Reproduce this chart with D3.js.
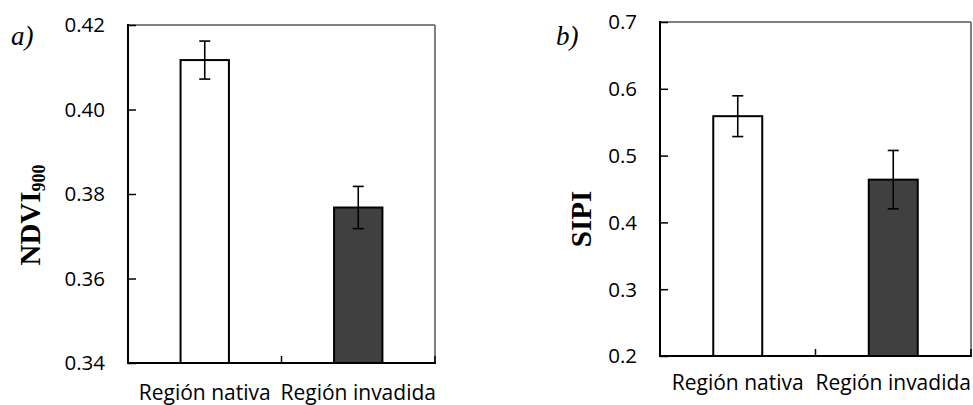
<!DOCTYPE html>
<html>
<head>
<meta charset="utf-8">
<script src="https://cdn.jsdelivr.net/npm/d3@7"></script>
<style>
  body { margin: 0; background: #fff; }
  svg { display: block; }
  .tick-label, .cat-label { font-family: "Open Sans", sans-serif; fill: #000; }
</style>
</head>
<body>
<div id="chart"></div>
<script>
var categories = ["Región nativa", "Región invadida"];
var ndviMean = [0.4117, 0.3768];
var ndviErr = [0.0045, 0.0050];
var sipiMean = [0.559, 0.464];
var sipiErr = [0.0305, 0.0437];
var ndviTicks = [0.34, 0.36, 0.38, 0.40, 0.42];
var sipiTicks = [0.2, 0.3, 0.4, 0.5, 0.6, 0.7];
var barFills = ["#ffffff", "#404040"];

var width = 973, height = 405;

var svg = d3.select("#chart").append("svg")
    .attr("width", width)
    .attr("height", height);

function panel(opt) {
  var x = d3.scaleBand()
      .domain(categories)
      .range([opt.left, opt.right])
      .paddingInner(0.685)
      .paddingOuter(0.3425);
  var y = d3.scaleLinear()
      .domain(opt.domain)
      .range([opt.bottom, opt.top]);

  var g = svg.append("g");

  // top and right frame (grey)
  g.append("line")
      .attr("x1", opt.left).attr("x2", opt.right)
      .attr("y1", opt.top).attr("y2", opt.top)
      .attr("stroke", "#808080").attr("stroke-width", 2);
  g.append("line")
      .attr("x1", opt.right).attr("x2", opt.right)
      .attr("y1", opt.top).attr("y2", opt.bottom)
      .attr("stroke", "#808080").attr("stroke-width", 2);

  // bars
  g.selectAll(".bar").data(opt.mean).enter()
    .append("rect")
      .attr("class", "bar")
      .attr("x", function(d, i) { return x(categories[i]); })
      .attr("width", x.bandwidth())
      .attr("y", function(d) { return y(d); })
      .attr("height", function(d) { return opt.bottom - y(d); })
      .attr("fill", function(d, i) { return barFills[i]; })
      .attr("stroke", "#000")
      .attr("stroke-width", 2);

  // error bars
  var cap = 5.5;
  opt.mean.forEach(function(m, i) {
    var cx = x(categories[i]) + x.bandwidth() / 2;
    var e = opt.err[i];
    var eg = g.append("g").attr("stroke", "#000").attr("stroke-width", 1.6);
    eg.append("line").attr("x1", cx).attr("x2", cx).attr("y1", y(m + e)).attr("y2", y(m - e));
    eg.append("line").attr("x1", cx - cap).attr("x2", cx + cap).attr("y1", y(m + e)).attr("y2", y(m + e));
    eg.append("line").attr("x1", cx - cap).attr("x2", cx + cap).attr("y1", y(m - e)).attr("y2", y(m - e));
  });

  // y axis with inward ticks
  var yAxis = d3.axisRight(y)
      .tickValues(opt.ticks)
      .tickSize(8)
      .tickFormat("");
  var ya = g.append("g")
      .attr("transform", "translate(" + opt.left + ",0)")
      .call(yAxis);
  ya.select(".domain").remove();
  ya.selectAll(".tick line").attr("stroke", "#000").attr("stroke-width", 1.5);
  g.append("line")
      .attr("x1", opt.left).attr("x2", opt.left)
      .attr("y1", opt.top - 1).attr("y2", opt.bottom + 1)
      .attr("stroke", "#000").attr("stroke-width", 2);

  g.selectAll(".tick-label").data(opt.ticks).enter()
    .append("text")
      .attr("class", "tick-label")
      .attr("x", opt.left - 23)
      .attr("y", function(d) { return y(d); })
      .attr("dy", "0.36em")
      .attr("text-anchor", "end")
      .style("font-size", "20.5px")
      .text(opt.format);

  // x axis: ticks between categories, pointing up
  var mid = (opt.left + opt.right) / 2;
  g.append("line")
      .attr("x1", opt.left - 1).attr("x2", opt.right + 1)
      .attr("y1", opt.bottom).attr("y2", opt.bottom)
      .attr("stroke", "#000").attr("stroke-width", 2);
  [mid, opt.right].forEach(function(tx) {
    g.append("line")
        .attr("x1", tx).attr("x2", tx)
        .attr("y1", opt.bottom).attr("y2", opt.bottom - 7)
        .attr("stroke", "#000").attr("stroke-width", 1.5);
  });

  g.selectAll(".cat-label").data(categories).enter()
    .append("text")
      .attr("class", "cat-label")
      .attr("x", function(d) { return x(d) + x.bandwidth() / 2; })
      .attr("y", opt.labelY)
      .attr("text-anchor", "middle")
      .style("font-size", "21px")
      .text(function(d) { return d; });

  // y title
  var t = g.append("text")
      .attr("transform", "translate(" + opt.titleX + "," + opt.titleY + ") rotate(-90)")
      .attr("text-anchor", "middle")
      .style("font-family", "'Liberation Serif', 'Times New Roman', serif")
      .style("font-weight", "bold")
      .style("font-size", "29px");
  t.append("tspan").text(opt.title);
  if (opt.sub) {
    t.append("tspan").attr("dy", 5).style("font-size", "18px").text(opt.sub);
  }

  // panel letter
  svg.append("text")
      .attr("x", opt.letterX)
      .attr("y", 45)
      .style("font-family", "'Liberation Serif', 'Times New Roman', serif")
      .style("font-style", "italic")
      .style("font-size", "27px")
      .text(opt.letter);
}

panel({
  left: 128, right: 435, top: 25, bottom: 363,
  domain: [0.34, 0.42], ticks: ndviTicks, format: d3.format(".2f"),
  mean: ndviMean, err: ndviErr,
  labelY: 400, title: "NDVI", sub: "900", titleX: 40, titleY: 215,
  letter: "a)", letterX: 11
});

panel({
  left: 660, right: 971, top: 22, bottom: 356,
  domain: [0.2, 0.7], ticks: sipiTicks, format: d3.format(".1f"),
  mean: sipiMean, err: sipiErr,
  labelY: 390, title: "SIPI", sub: null, titleX: 591, titleY: 219,
  letter: "b)", letterX: 556
});
</script>
</body>
</html>
